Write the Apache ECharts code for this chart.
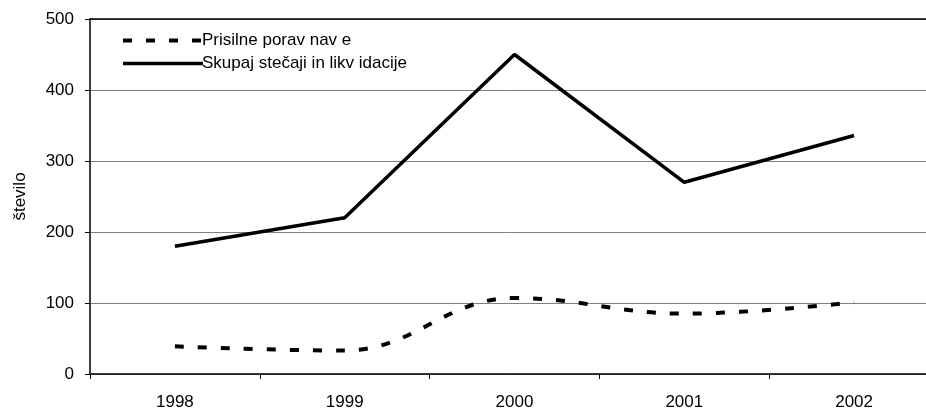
<!DOCTYPE html>
<html><head><meta charset="utf-8">
<script src="https://cdn.jsdelivr.net/npm/echarts@6/dist/echarts.min.js"></script>
<style>html,body{margin:0;padding:0;background:#fff}#c{width:926px;height:410px}</style>
</head><body><div id="c"></div>
<script>
var categories = ['1998', '1999', '2000', '2001', '2002'];
var prisilne = [39, 33, 107, 85, 101];
var skupaj = [180, 220, 450, 270, 336];
var seriesNames = ['Prisilne porav nav e', 'Skupaj stečaji in likv idacije'];
var yTitle = 'število';

var font = 'Liberation Sans, Arial, sans-serif';
var chart = echarts.init(document.getElementById('c'), null, {renderer: 'canvas'});
chart.setOption({
  animation: false,
  backgroundColor: '#fff',
  grid: {left: 90, right: -13, top: 19, bottom: 36, outerBoundsMode: 'none', containLabel: false},
  legend: {
    orient: 'vertical', left: 116, top: 27, itemWidth: 80, itemHeight: 14, itemGap: 6,
    itemStyle: {opacity: 0, borderWidth: 0},
    textStyle: {fontFamily: font, fontSize: 17, color: '#000', padding: [0,0,0,-6]},
    data: [
      {name: seriesNames[0], lineStyle: {width: 4, type: [9, 14], color: '#000'}},
      {name: seriesNames[1], lineStyle: {width: 3.5, type: 'solid', color: '#000'}}
    ]
  },
  xAxis: [{
    type: 'category', data: categories, boundaryGap: true, position: 'bottom',
    axisLine: {lineStyle: {color: '#000', width: 1.5}},
    axisTick: {show: true, length: 5, inside: false, lineStyle: {color: '#000'}},
    axisLabel: {fontFamily: font, fontSize: 17, color: '#000', margin: 20}
  }, {
    type: 'category', data: categories, position: 'top',
    axisLine: {lineStyle: {color: '#000', width: 1.5}},
    axisTick: {show: false}, axisLabel: {show: false}
  }],
  yAxis: {
    type: 'value', min: 0, max: 500, interval: 100,
    name: yTitle, nameLocation: 'middle', nameGap: 61, nameRotate: 90,
    nameTextStyle: {fontFamily: font, fontSize: 17, color: '#000'},
    axisLine: {show: true, lineStyle: {color: '#000', width: 1.5}},
    axisTick: {show: true, length: 5, lineStyle: {color: '#000'}},
    axisLabel: {fontFamily: font, fontSize: 17, color: '#000', margin: 16},
    splitLine: {show: true, lineStyle: {color: '#808080', width: 1}}
  },
  series: [{
    name: seriesNames[0], type: 'line', data: prisilne, smooth: 0.4, symbol: 'none',
    lineStyle: {color: '#000', width: 4, type: [9, 14], cap: 'butt'},
    itemStyle: {color: '#000'}
  }, {
    name: seriesNames[1], type: 'line', data: skupaj, smooth: false, symbol: 'none',
    lineStyle: {color: '#000', width: 3.5, type: 'solid'},
    itemStyle: {color: '#000'}
  }]
});
</script></body></html>
